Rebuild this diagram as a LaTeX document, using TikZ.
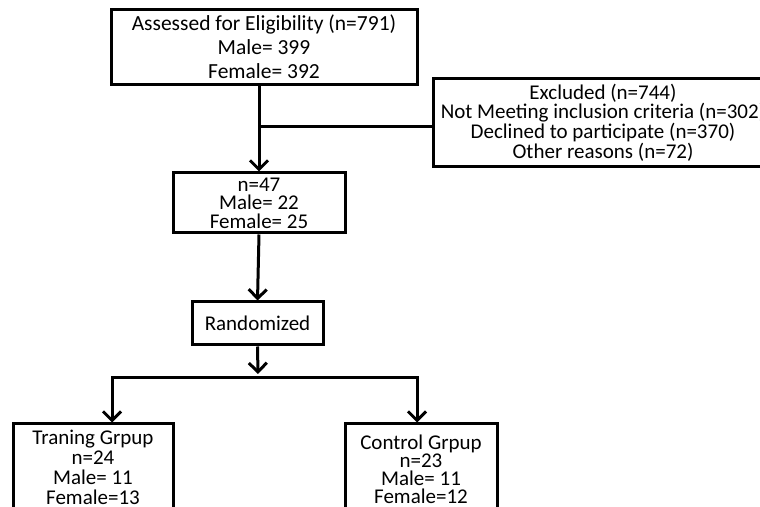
\documentclass[tikz,border=0pt]{standalone}
\usepackage{fontspec}
\setmainfont{Carlito}
\usetikzlibrary{arrows.meta}

\begin{document}
\begin{tikzpicture}[x=0.5pt,y=-0.5pt,line width=1.5pt,>={Straight Barb[length=4.5pt,width=9pt]},
  box/.style={draw,line width=1.5pt,align=center,inner sep=0pt,font=\fontsize{10.5}{9.75}\selectfont}]
\clip (0,0) rectangle (760,507);
\useasboundingbox (0,0) rectangle (760,507);
% boxes
\node[box,minimum width=153pt,minimum height=37.5pt,font=\fontsize{10.75}{12}\selectfont] (assess) at (264,47) {Assessed for Eligibility (n=791)\\Male= 399\\Female= 392};
\node[box,minimum width=170pt,minimum height=44pt,font=\fontsize{10.5}{9.9}\selectfont] (excl) at (603,122.5) {Excluded (n=744)\\Not Meeting inclusion criteria (n=302)\\Declined to participate (n=370)\\Other reasons (n=72)};
\node[box,minimum width=86pt,minimum height=30pt,font=\fontsize{10.5}{9.25}\selectfont] (n47) at (259,203) {n=47\\Male= 22\\Female= 25};
\node[box,minimum width=65.5pt,minimum height=21.5pt] (rand) at (257.5,323.5) {Randomized};
\node[box,minimum width=80pt,minimum height=43pt,font=\fontsize{10.5}{10}\selectfont] (train) at (93,467) {Traning Grpup\\n=24\\Male= 11\\Female=13};
\node[box,minimum width=76pt,minimum height=45pt,font=\fontsize{10.5}{9}\selectfont] (ctrl) at (421,469) {Control Grpup\\n=23\\Male= 11\\Female=12};
% connectors
\coordinate (j1) at (259,127);
\coordinate (split) at (258,374);
\coordinate (bl) at (112,378);
\coordinate (br) at (417,378);
\draw[->] (n47.north |- assess.south) -- (n47.north);
\draw (j1) -- (j1 -| excl.west);
\draw[->] (n47.south) -- (rand.north);
\draw[->] (rand.south) -- (split);
\draw[<->] (bl |- train.north) -- (bl) -- (br) -- (br |- ctrl.north);
\end{tikzpicture}
\end{document}
